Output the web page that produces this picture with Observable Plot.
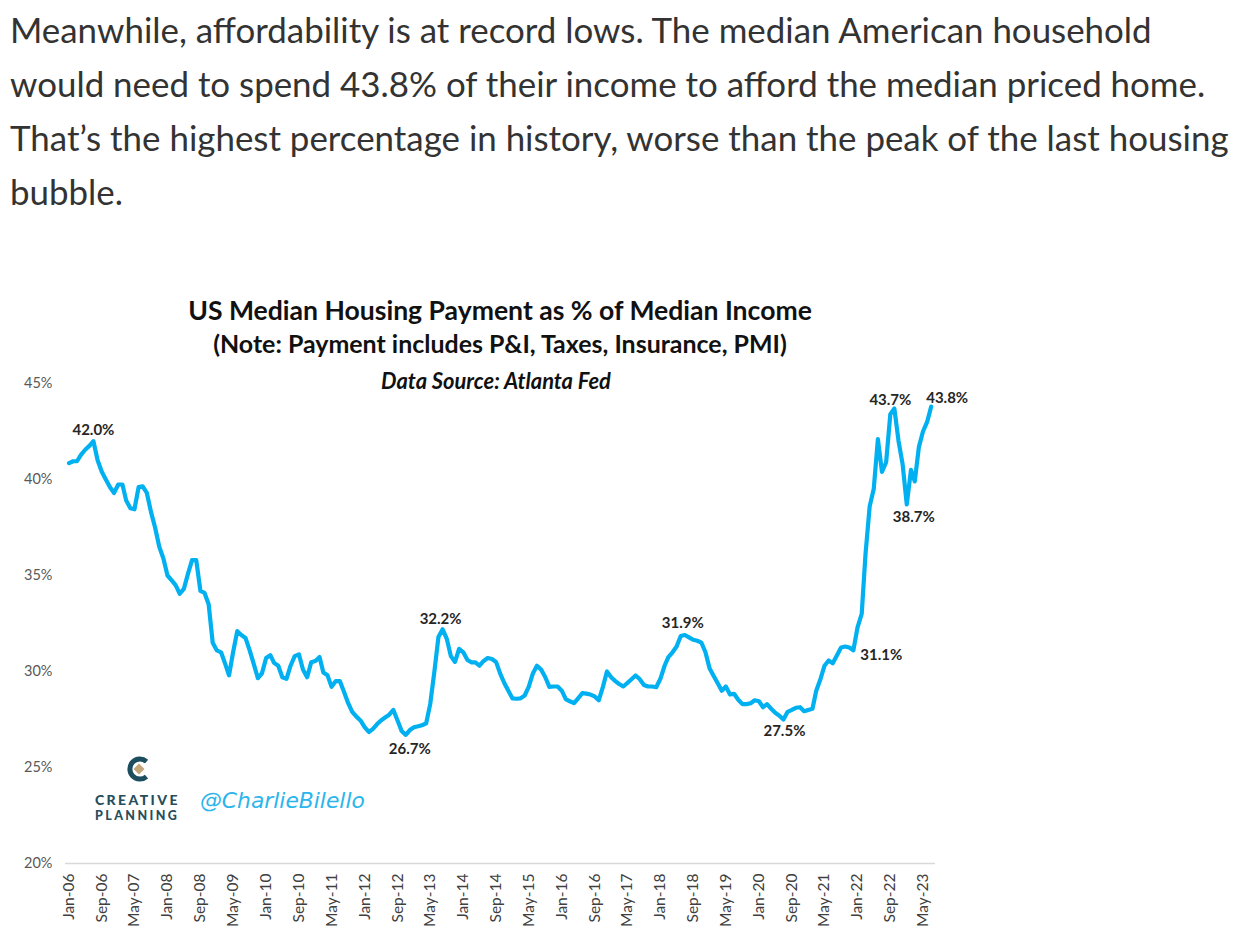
<!DOCTYPE html>
<html>
<head>
<meta charset="utf-8">
<script src="https://cdn.jsdelivr.net/npm/d3@7"></script>
<script src="https://cdn.jsdelivr.net/npm/@observablehq/plot@0.6"></script>
<style>
  html, body { margin: 0; padding: 0; background: #fff; }
  body { width: 1248px; height: 945px; position: relative; overflow: hidden; }
  .abs { position: absolute; white-space: nowrap; line-height: 1; }
  .para { font-family: Lato, "Open Sans", sans-serif; color: #333; left: 10px; transform: translateY(-50%); }
  .ctr { transform: translate(-50%, -50%); }
  .title { font-family: Lato, sans-serif; font-weight: 700; color: #111; }
  .src { font-family: Lato, sans-serif; font-weight: 700; font-style: italic; color: #111; }
  #chart { position: absolute; left: 0; top: 360px; }
  .brand { font-family: Lato, sans-serif; font-weight: 900; color: #264d5c; letter-spacing: 2.4px; transform: translateY(-50%); }
  .handle { font-family: "DejaVu Sans", sans-serif; font-style: italic; color: #2bb5ec; transform: translateY(-50%); }
</style>
</head>
<body>
<div class="abs para" id="p1" style="top:30px">Meanwhile, affordability is at record lows. The median American household</div>
<div class="abs para" id="p2" style="top:84px">would need to spend 43.8% of their income to afford the median priced home.</div>
<div class="abs para" id="p3" style="top:138px">That’s the highest percentage in history, worse than the peak of the last housing</div>
<div class="abs para" id="p4" style="top:192px">bubble.</div>

<div class="abs title ctr" data-w="624" style="left:500px; top:310px; font-size:24px">US Median Housing Payment as % of Median Income</div>
<div class="abs title ctr" data-w="574" style="left:500px; top:343px; font-size:20px">(Note: Payment includes P&amp;I, Taxes, Insurance, PMI)</div>
<div class="abs src ctr" data-w="230" style="left:496px; top:381px; font-size:16px">Data Source: Atlanta Fed</div>

<div id="chart"></div>

<svg class="abs" style="left:127px; top:756px" width="24" height="26" viewBox="0 0 24 26">
  <path d="M19.5 5.5 A10 10 0 1 0 19.5 20.5" fill="none" stroke="#1d4e5f" stroke-width="5"/>
  <path d="M12 7.5 L17.5 13 L12 18.5 L6.5 13 Z" fill="#c4a77a"/>
</svg>
<div class="abs brand" data-w="88" style="left:95px; top:800px; font-size:12px">CREATIVE</div>
<div class="abs brand" data-w="85" style="left:95px; top:816px; font-size:12px">PLANNING</div>
<div class="abs handle" data-w="165" style="left:200px; top:801px; font-size:18px">@CharlieBilello</div>

<script>
// ---- data ----
const seriesStart = "Jan-06";
const paymentPct = [
  40.85, 40.95, 40.95, 41.3, 41.55, 41.75, 42.0, 41.0, 40.4, 40.0, 39.6, 39.3,
  39.74, 39.74, 38.9, 38.5, 38.45, 39.6, 39.64, 39.3, 38.3, 37.5, 36.5, 35.9,
  35.0, 34.75, 34.5, 34.05, 34.3, 35.1, 35.8, 35.8, 34.2, 34.1, 33.5, 31.5,
  31.1, 31.0, 30.45, 29.8, 31.0, 32.1, 31.9, 31.75, 31.1, 30.4, 29.65, 29.9,
  30.7, 30.85, 30.45, 30.3, 29.7, 29.62, 30.3, 30.8, 30.89, 30.1, 29.7, 30.48,
  30.55, 30.75, 29.95, 29.8, 29.2, 29.5, 29.5, 28.95, 28.35, 27.9, 27.65, 27.45,
  27.1, 26.85, 27.0, 27.25, 27.45, 27.6, 27.75, 28.0, 27.45, 26.9, 26.7, 26.95,
  27.1, 27.15, 27.2, 27.3, 28.3, 30.0, 31.8, 32.2, 31.7, 30.8, 30.5, 31.18,
  31.0, 30.6, 30.48, 30.48, 30.3, 30.55, 30.7, 30.65, 30.5, 29.9, 29.4, 29.0,
  28.6, 28.58, 28.6, 28.75, 29.2, 29.9, 30.3, 30.1, 29.7, 29.2, 29.22, 29.22,
  29.0, 28.55, 28.45, 28.35, 28.6, 28.87, 28.85, 28.8, 28.7, 28.5, 29.2, 30.0,
  29.7, 29.5, 29.35, 29.22, 29.4, 29.6, 29.79, 29.6, 29.3, 29.22, 29.22, 29.18,
  29.62, 30.3, 30.75, 31.0, 31.3, 31.85, 31.9, 31.78, 31.65, 31.6, 31.5, 31.0,
  30.15, 29.75, 29.4, 29.0, 29.22, 28.8, 28.84, 28.53, 28.3, 28.3, 28.35, 28.5,
  28.45, 28.14, 28.3, 28.06, 27.85, 27.7, 27.5, 27.9, 28.0, 28.11, 28.14, 27.93,
  28.0, 28.06, 29.0, 29.6, 30.3, 30.57, 30.43, 30.83, 31.25, 31.3, 31.25, 31.1,
  32.3, 33.0, 36.1, 38.6, 39.5, 42.1, 40.4, 40.9, 43.4, 43.7, 42.0, 40.8,
  38.7, 40.5, 39.9, 41.7, 42.5, 43.0, 43.8
];
const xTickLabels = ["Jan-06","Sep-06","May-07","Jan-08","Sep-08","May-09","Jan-10","Sep-10","May-11",
  "Jan-12","Sep-12","May-13","Jan-14","Sep-14","May-15","Jan-16","Sep-16","May-17","Jan-18","Sep-18",
  "May-19","Jan-20","Sep-20","May-21","Jan-22","Sep-22","May-23"];
const yTicks = [20, 25, 30, 35, 40, 45];
const annotatedMonths = ["Jul-06","Nov-12","Aug-13","Jul-18","Jul-20","Dec-21","Oct-22","Jan-23","Jul-23"];

// ---- build table ----
const parseMonth = d3.utcParse("%b-%y");
const fmtMonth = d3.utcFormat("%b-%y");
const start = parseMonth(seriesStart);
const rows = paymentPct.map((v, i) => ({date: d3.utcMonth.offset(start, i), value: v}));
const byMonth = new Map(rows.map(r => [fmtMonth(r.date), r]));
const ann = annotatedMonths.map(m => byMonth.get(m));

// label placement (styling only)
const place = {
  "Jul-06": {textAnchor: "middle", dx: 0,  dy: -11},
  "Nov-12": {textAnchor: "middle", dx: 4,  dy: 14},
  "Aug-13": {textAnchor: "middle", dx: -2, dy: -10},
  "Jul-18": {textAnchor: "middle", dx: -2, dy: -12},
  "Jul-20": {textAnchor: "middle", dx: 1,  dy: 12},
  "Dec-21": {textAnchor: "start",  dx: 7,  dy: 5},
  "Oct-22": {textAnchor: "middle", dx: -4, dy: -8},
  "Jan-23": {textAnchor: "middle", dx: 7,  dy: 13},
  "Jul-23": {textAnchor: "start",  dx: -5, dy: -8}
};

const annMarks = ann.map(r => Plot.text([r], {
  x: "date", y: "value", text: d => d.value.toFixed(1) + "%",
  fill: "#262626", fontWeight: 700, fontSize: 15, lineAnchor: "middle",
  ...place[fmtMonth(r.date)]
}));

const chart = Plot.plot({
  width: 1000,
  height: 583,
  marginLeft: 65,
  marginRight: 65,
  marginTop: 23,
  marginBottom: 80,
  style: {fontFamily: "Lato, sans-serif", fontSize: "14px", background: "transparent"},
  x: {
    type: "utc",
    domain: [rows[0].date, rows[rows.length - 1].date],
    insetLeft: 3.5, insetRight: 4.3,
    label: null
  },
  y: {
    domain: [20, 45],
    label: null
  },
  marks: [
    Plot.axisX({ticks: xTickLabels.map(parseMonth), tickFormat: fmtMonth, tickRotate: -90,
      tickSize: 0, tickPadding: 10, fontSize: 15.5, fill: "#404040", label: null}),
    Plot.axisY({ticks: yTicks, tickFormat: d => d + "%", tickSize: 0, tickPadding: 13,
      fontSize: 14.5, fill: "#595959", label: null}),
    Plot.ruleY([20], {stroke: "#d9d9d9", strokeWidth: 1.5}),
    Plot.lineY(rows, {x: "date", y: "value", stroke: "#00b0f0", strokeWidth: 4.2, strokeLinejoin: "round", strokeLinecap: "round"}),
    ...annMarks
  ]
});
document.getElementById("chart").appendChild(chart);

// fit text widths
function fitWidth(el, target) {
  const w = el.getBoundingClientRect().width;
  const fs = parseFloat(getComputedStyle(el).fontSize);
  if (w > 0) el.style.fontSize = (fs * target / w) + "px";
}
document.querySelectorAll("[data-w]").forEach(el => fitWidth(el, +el.dataset.w));
const p1 = document.getElementById("p1");
p1.style.fontSize = "31px";
fitWidth(p1, 1142);
const pfs = p1.style.fontSize;
["p2","p3","p4"].forEach(id => document.getElementById(id).style.fontSize = pfs);
</script>
</body>
</html>
